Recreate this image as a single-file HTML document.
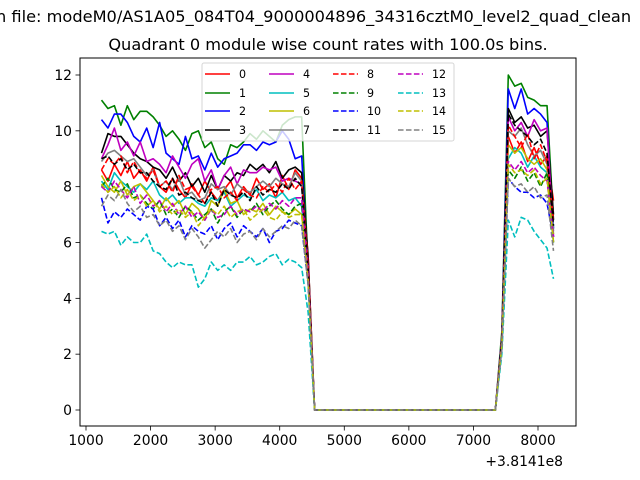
<!DOCTYPE html>
<html><head><meta charset="utf-8"><style>
html,body{margin:0;padding:0;background:#fff;}
svg{display:block;font-family:"DejaVu Sans","Liberation Sans",sans-serif;}
</style></head><body>
<svg id="chart" width="640" height="480" viewBox="0 0 640 480">
<text x="-4" y="22" font-size="16.2">n file: modeM0/AS1A05_084T04_9000004896_34316cztM0_level2_quad_clean</text>
<text x="328" y="50" font-size="16.2" text-anchor="middle">Quadrant 0 module wise count rates with 100.0s bins.</text>
<g id="plot"></g>
</svg>
<script>
const times=[1240,1340,1440,1540,1640,1740,1840,1940,2040,2140,2240,2340,2440,2540,2640,2740,2840,2940,3040,3140,3240,3340,3440,3540,3640,3740,3840,3940,4040,4140,4240,4340,4440,4540,4640,4740,4840,4940,5040,5140,5240,5340,5440,5540,5640,5740,5840,5940,6040,6140,6240,6340,6440,6540,6640,6740,6840,6940,7040,7140,7240,7340,7440,7540,7640,7740,7840,7940,8040,8140,8240];
const gapZeros=[0,0,0,0,0,0,0,0,0,0,0,0,0,0,0,0,0,0,0,0,0,0,0,0,0,0,0,0,0];
const seriesLabels=["0","1","2","3","4","5","6","7","8","9","10","11","12","13","14","15"];
const segA=[
[8.6,8.2,8.8,8.4,8.9,8.3,8.6,8.2,8.7,8.0,7.8,8.3,7.9,7.6,8.1,7.7,8.2,7.8,7.5,7.9,8.2,7.6,8.0,7.7,8.3,7.9,8.1,7.6,8.4,7.9,8.6,8.3,5.5],
[11.1,10.8,10.9,10.2,10.9,10.4,10.7,10.7,10.5,10.2,9.8,10.0,9.7,9.3,9.9,10.0,9.4,9.6,9.0,8.8,9.5,9.4,9.6,9.9,9.7,10.0,9.8,9.6,10.2,10.4,10.5,10.5,5.0],
[10.4,10.1,10.6,10.6,10.3,9.8,9.6,10.1,9.4,10.3,9.2,9.0,8.8,9.8,9.0,9.1,8.6,9.2,8.7,9.0,9.1,9.2,9.5,9.5,9.3,9.6,9.5,9.6,10.0,9.7,9.0,9.1,5.0],
[9.2,9.9,9.8,9.8,9.5,9.2,9.0,8.9,8.7,8.6,8.3,8.7,8.2,8.5,8.0,8.3,7.8,8.4,7.9,8.4,8.2,8.5,8.4,8.8,8.6,8.8,8.5,8.9,8.3,8.6,8.7,8.5,5.5],
[9.0,9.5,10.1,9.3,9.6,9.1,9.6,8.9,9.0,8.8,8.5,9.1,8.7,8.3,8.8,9.0,8.2,8.6,7.9,8.4,8.7,8.1,8.6,8.5,8.5,8.7,8.6,8.7,8.2,8.3,8.2,8.1,5.2],
[8.2,7.9,8.5,8.2,8.0,7.8,8.1,7.9,8.2,7.7,7.5,7.7,7.4,7.6,7.6,7.4,7.3,7.6,7.5,7.8,7.3,7.5,7.7,7.6,7.9,7.5,7.7,7.6,7.8,7.5,7.6,7.3,4.8],
[8.4,8.0,7.8,8.2,7.7,8.0,8.1,7.8,7.5,7.2,7.6,7.3,7.5,7.0,7.4,7.2,6.8,7.5,7.3,7.9,7.4,7.5,7.0,7.2,7.1,7.4,7.0,7.3,7.1,7.0,7.2,7.0,4.8],
[8.9,9.2,9.3,9.1,8.9,9.0,8.7,8.4,8.6,8.0,8.2,7.9,8.3,7.7,7.8,7.5,7.6,8.1,7.9,8.0,7.7,8.1,7.9,7.8,8.0,8.2,8.0,8.3,8.1,8.0,8.5,8.2,5.0],
[8.6,9.0,8.8,9.1,8.5,8.9,8.5,8.3,8.6,8.0,8.2,7.8,8.4,7.9,8.0,7.7,7.4,7.9,8.0,7.6,7.8,7.5,7.9,7.7,7.6,8.0,7.8,8.1,7.8,8.3,7.9,8.2,5.2],
[8.0,8.3,7.9,7.8,8.1,7.6,7.7,7.4,7.2,7.5,7.0,7.2,6.9,7.3,7.1,6.8,7.0,7.2,6.7,7.1,7.3,6.9,7.2,7.1,7.4,7.0,7.3,7.5,7.2,7.0,7.3,7.4,4.8],
[7.6,6.7,7.1,6.9,7.2,7.0,6.8,7.3,7.2,6.6,6.9,6.5,6.8,6.2,6.6,6.4,6.3,6.6,6.1,6.5,6.7,6.2,6.6,6.4,6.2,6.5,6.0,6.4,6.5,6.8,6.7,6.6,4.5],
[9.0,9.1,8.8,9.0,8.6,8.8,8.5,8.5,8.2,8.0,7.9,8.3,7.7,7.8,7.6,7.5,7.4,7.8,7.3,7.9,7.7,7.6,7.8,7.5,8.0,7.7,7.9,7.8,8.1,7.9,8.3,8.0,5.0],
[8.0,7.8,8.2,7.9,7.6,8.0,7.4,7.7,7.3,7.5,7.1,7.4,7.0,7.3,6.9,7.1,6.8,7.2,6.9,7.0,7.3,7.0,7.2,7.1,7.3,7.1,7.4,7.2,7.5,7.3,7.6,7.6,4.8],
[6.4,6.3,6.4,5.9,6.2,6.0,6.0,6.3,5.7,5.6,5.3,5.1,5.3,5.2,5.2,4.4,4.7,5.3,5.0,5.2,5.0,5.3,5.3,5.5,5.2,5.3,5.5,5.6,5.2,5.4,5.3,5.1,3.5],
[8.1,7.8,8.0,7.6,7.9,7.5,7.7,7.3,7.5,7.1,7.3,7.0,7.2,6.9,7.1,6.6,6.9,7.2,7.0,7.3,6.9,7.1,7.2,6.8,7.0,7.2,6.9,6.8,7.1,6.9,7.0,7.0,4.6],
[7.3,7.7,7.5,7.9,7.4,7.1,7.3,6.9,7.0,6.6,6.8,6.4,6.6,6.1,6.5,6.2,5.8,6.1,6.4,6.2,6.5,6.0,6.3,6.4,6.1,6.5,6.2,6.4,6.6,6.5,6.8,6.6,4.5]];
const segB=[
[2.5,9.8,9.2,9.6,8.9,9.4,8.8,9.1,7.5],
[2.8,12.0,11.6,11.7,11.2,11.1,10.9,10.9,6.8],
[2.6,11.5,10.8,11.5,10.6,10.8,10.6,10.3,6.5],
[2.5,10.8,10.3,10.5,10.1,10.2,9.8,10.0,7.0],
[2.6,10.5,10.0,10.3,9.8,10.4,10.0,10.1,6.2],
[2.4,9.0,9.4,9.2,8.7,9.1,8.7,8.5,6.5],
[2.3,9.5,9.2,9.4,9.0,8.8,9.0,8.6,6.3],
[2.5,10.0,9.8,10.1,9.5,9.1,9.3,8.8,6.4],
[2.5,10.2,9.8,9.4,9.9,9.0,9.5,8.9,6.8],
[2.3,8.6,8.3,8.7,8.2,8.5,8.0,8.5,6.0],
[2.2,8.3,8.0,7.8,7.8,7.6,7.7,7.4,6.2],
[2.5,10.6,10.2,10.0,9.8,9.5,9.7,9.2,6.6],
[2.3,8.9,8.6,8.9,8.5,8.7,8.4,8.2,6.2],
[2.0,6.8,6.2,6.9,6.8,6.4,6.1,5.8,4.7],
[2.3,8.8,8.5,8.6,8.4,8.6,8.1,8.3,6.0],
[2.2,8.3,8.0,8.1,7.8,8.0,7.6,7.7,5.7]];
const xTicks=[1000,2000,3000,4000,5000,6000,7000,8000];
const yTicks=[0,2,4,6,8,10,12];

const NS="http://www.w3.org/2000/svg";
const L=80,R=576,T=58,B=426;
function xs(v){return 86+(v-1000)*0.064571;}
function ys(v){return 410-v*27.917;}
const colors=["#ff0000","#008000","#0000ff","#000000","#bf00bf","#00bfbf","#bfbf00","#808080"];
const g=document.getElementById('plot');
function mk(tag,attrs,parent){const e=document.createElementNS(NS,tag);for(const k in attrs)e.setAttribute(k,attrs[k]);(parent||g).appendChild(e);return e;}

for(let i=0;i<16;i++){
  const vals=segA[i].concat(gapZeros,segB[i]);
  const d=vals.map((v,j)=>(j?'L':'M')+xs(times[j]).toFixed(2)+','+ys(v).toFixed(2)).join(' ');
  const p=mk('path',{d:d,fill:'none',stroke:colors[i%8],'stroke-width':1.6,'stroke-linejoin':'round'});
  if(i>=8)p.setAttribute('stroke-dasharray','5.55,2.4');
  
  
}
const frame=mk('rect',{x:L,y:T,width:R-L,height:B-T,fill:'none',stroke:'#000','stroke-width':1});


xTicks.forEach(v=>{
  const x=xs(v);
  const t=mk('line',{x1:x,y1:B,x2:x,y2:B+4.5,stroke:'#000','stroke-width':0.8});
  
  
  const tx=mk('text',{x:x,y:B+19,'font-size':13.9,'text-anchor':'middle'});
  tx.textContent=v;
  
  
});
yTicks.forEach(v=>{
  const y=ys(v);
  const t=mk('line',{x1:L-4.5,y1:y,x2:L,y2:y,stroke:'#000','stroke-width':0.8});
  
  
  const tx=mk('text',{x:L-8,y:y+5,'font-size':13.9,'text-anchor':'end'});
  tx.textContent=v;
  
  
});
const off=mk('text',{x:563,y:466,'font-size':13.9,'text-anchor':'end'});
off.textContent='+3.8141e8';



const lg=mk('g',{});


mk('rect',{x:202,y:63,width:252,height:78,rx:2,fill:'#fff','fill-opacity':0.8,stroke:'#cccccc','stroke-opacity':0.8},lg);
const colX=[205,269,333,398],rowY=[74,93,111,130];
for(let i=0;i<16;i++){
  const c=Math.floor(i/4),r=i%4;
  const x=colX[c],y=rowY[r];
  const ln=mk('line',{x1:x,y1:y,x2:x+25,y2:y,stroke:colors[i%8],'stroke-width':1.6},lg);
  if(i>=8)ln.setAttribute('stroke-dasharray','5.55,2.4');
  
  
  const tx=mk('text',{x:x+34,y:y+4,'font-size':11.1},lg);
  tx.textContent=seriesLabels[i];
  
  
}
</script>
</body></html>
